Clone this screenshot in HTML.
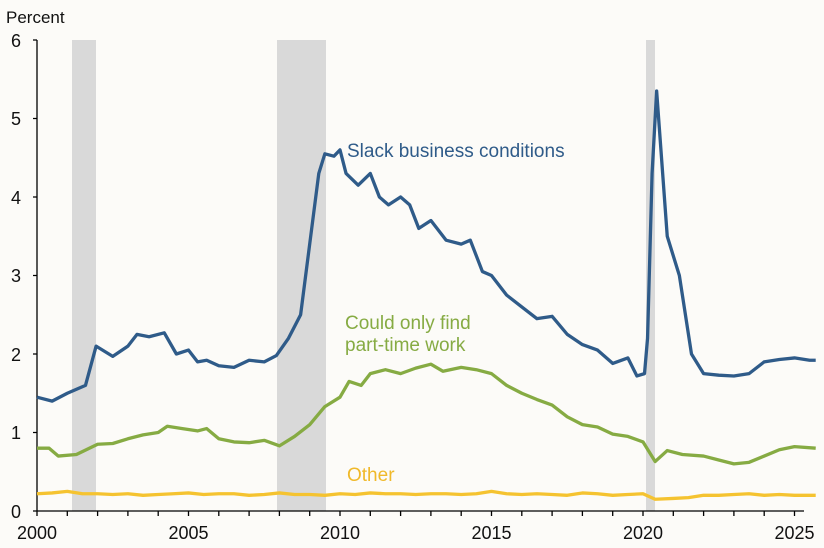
<!DOCTYPE html><html><head><style>body{margin:0;background:#fcfbf8}svg{display:block;font-family:"Liberation Sans",sans-serif}</style></head><body>
<svg width="824" height="548" viewBox="0 0 824 548">
<rect width="824" height="548" fill="#fcfbf8"/>
<g fill="#d9d9d9"><rect x="72" y="40" width="24" height="471"/><rect x="277" y="40" width="49" height="471"/><rect x="646" y="40" width="9" height="471"/></g>
<g stroke="#000" stroke-width="1.3"><line x1="37" y1="40" x2="37" y2="511"/><line x1="37" y1="511" x2="804" y2="511"/>
<path d="M33 40H37M33 118.5H37M33 197H37M33 275.5H37M33 354H37M33 432.5H37M33 511H37"/>
<path d="M37 511v5M67.3 511v5M97.6 511v5M127.9 511v5M158.2 511v5M188.5 511v5M218.8 511v5M249.1 511v5M279.4 511v5M309.7 511v5M340 511v5M370.3 511v5M400.6 511v5M430.9 511v5M461.2 511v5M491.5 511v5M521.8 511v5M552.1 511v5M582.4 511v5M612.7 511v5M643 511v5M673.3 511v5M703.6 511v5M733.9 511v5M764.2 511v5M794.5 511v5"/></g>
<g font-size="18" fill="#111" text-anchor="end"><text x="21" y="47">6</text><text x="21" y="125">5</text><text x="21" y="204">4</text><text x="21" y="282">3</text><text x="21" y="361">2</text><text x="21" y="439">1</text><text x="21" y="518">0</text></g>
<g font-size="18" fill="#111" text-anchor="middle"><text x="37" y="539">2000</text><text x="188.5" y="539">2005</text><text x="340" y="539">2010</text><text x="491.5" y="539">2015</text><text x="643" y="539">2020</text><text x="794.5" y="539">2025</text></g>
<text x="6" y="23" font-size="17" fill="#111">Percent</text>
<g transform="translate(37,511) scale(30.3,-78.5)" fill="none" stroke-linejoin="round">
<polyline vector-effect="non-scaling-stroke" stroke-width="3.3" stroke="#f5c330" points="0,0.22 0.5,0.23 1,0.25 1.5,0.22 2,0.22 2.5,0.21 3,0.22 3.5,0.2 4,0.21 4.5,0.22 5,0.23 5.5,0.21 6,0.22 6.5,0.22 7,0.2 7.5,0.21 8,0.23 8.5,0.21 9,0.21 9.5,0.2 10,0.22 10.5,0.21 11,0.23 11.5,0.22 12,0.22 12.5,0.21 13,0.22 13.5,0.22 14,0.21 14.5,0.22 15,0.25 15.5,0.22 16,0.21 16.5,0.22 17,0.21 17.5,0.2 18,0.23 18.5,0.22 19,0.2 19.5,0.21 20,0.22 20.4,0.15 21,0.16 21.5,0.17 22,0.2 22.5,0.2 23,0.21 23.5,0.22 24,0.2 24.5,0.21 25,0.2 25.7,0.2"/>
<polyline vector-effect="non-scaling-stroke" stroke-width="3.3" stroke="#86ab43" points="0,0.8 0.4,0.8 0.7,0.7 1.3,0.72 2,0.85 2.5,0.86 3,0.92 3.5,0.97 4,1.0 4.3,1.08 4.8,1.05 5.3,1.02 5.6,1.05 6,0.92 6.5,0.88 7,0.87 7.5,0.9 8,0.83 8.5,0.95 9,1.1 9.5,1.33 10,1.45 10.3,1.65 10.7,1.6 11,1.75 11.5,1.8 12,1.75 12.5,1.82 13,1.87 13.4,1.78 14,1.83 14.5,1.8 15,1.75 15.5,1.6 16,1.5 16.5,1.42 17,1.35 17.5,1.2 18,1.1 18.5,1.07 19,0.98 19.5,0.95 20,0.88 20.4,0.63 20.8,0.77 21.3,0.72 22,0.7 22.5,0.65 23,0.6 23.5,0.62 24,0.7 24.5,0.78 25,0.82 25.7,0.8"/>
<polyline vector-effect="non-scaling-stroke" stroke-width="3.3" stroke="#2f5b89" points="0,1.45 0.5,1.4 1,1.5 1.6,1.6 1.95,2.1 2.5,1.97 3,2.1 3.3,2.25 3.7,2.22 4.2,2.27 4.6,2.0 5,2.05 5.3,1.9 5.6,1.92 6,1.85 6.5,1.83 7,1.92 7.5,1.9 7.9,1.98 8.3,2.2 8.7,2.5 9.0,3.4 9.3,4.3 9.5,4.55 9.8,4.52 10,4.6 10.2,4.3 10.6,4.15 11,4.3 11.3,4.0 11.6,3.9 12,4.0 12.3,3.9 12.6,3.6 13,3.7 13.5,3.45 14,3.4 14.3,3.45 14.7,3.05 15,3.0 15.5,2.75 16,2.6 16.5,2.45 17,2.48 17.5,2.25 18,2.12 18.5,2.05 19,1.88 19.5,1.95 19.8,1.72 20.05,1.75 20.15,2.2 20.3,4.3 20.45,5.35 20.8,3.5 21.2,3.0 21.6,2.0 22,1.75 22.5,1.73 23,1.72 23.5,1.75 24,1.9 24.5,1.93 25,1.95 25.5,1.92 25.7,1.92"/>
</g>
<g font-size="19"><text x="347" y="157" fill="#2f5b89">Slack business conditions</text><text x="345" y="329" fill="#86ab43">Could only find</text><text x="345" y="351" fill="#86ab43">part-time work</text><text x="347" y="481" fill="#f0b92a">Other</text></g>
</svg></body></html>
